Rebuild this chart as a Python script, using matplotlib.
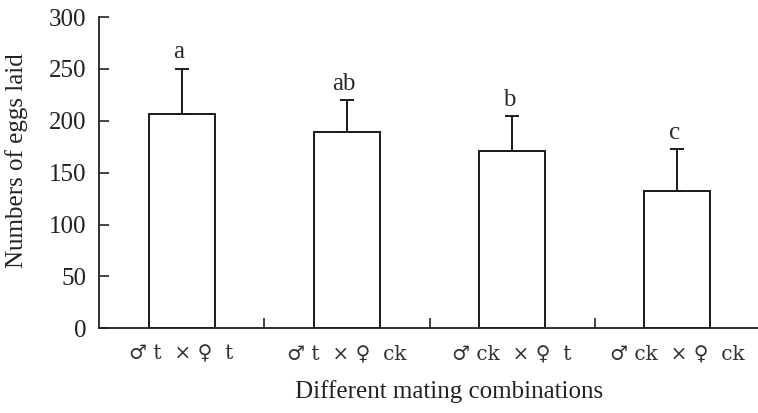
import matplotlib
matplotlib.use("Agg")
import matplotlib.pyplot as plt
import numpy as np

categories = ["♂ t  × ♀  t", "♂ t  × ♀  ck", "♂ ck  × ♀  t", "♂ ck  × ♀  ck"]
means = [206.5, 189.5, 170.5, 132.5]
errors = [43.8, 30.2, 34.0, 40.0]
letters = ["a", "ab", "b", "c"]
yticks = [0, 50, 100, 150, 200, 250, 300]

plt.rcParams['font.family'] = ['Liberation Serif', 'DejaVu Serif', 'Noto Sans CJK SC']

fig = plt.figure(figsize=(7.58, 4.13), dpi=100)
ax = fig.add_axes([99/758, 1 - 328.3/413, 661/758, 311.3/413])

x = np.arange(len(categories))
ax.bar(x, means, width=0.4, color='white', edgecolor='#1a1a1a', linewidth=1.4, zorder=2)
ax.errorbar(x, means, yerr=[np.zeros(len(errors)), errors], fmt='none', ecolor='#1a1a1a',
            elinewidth=1.4, capsize=5, capthick=1.4, zorder=3)
for xi, m, e, l in zip(x, means, errors, letters):
    ax.text(xi - 0.02, m + e + 5, l, ha='center', va='bottom', fontsize=18, color='#2a2a2a')

ax.set_xlim(-0.5, 3.5)
ax.set_ylim(0, 300)
ax.set_yticks(yticks)
ax.set_xticks(x)
ax.set_xticklabels(categories, fontsize=14.5, family=['DejaVu Serif'])
ax.set_xticks([0.5, 1.5, 2.5], minor=True)
ax.tick_params(axis='x', which='major', length=0, pad=12, colors='#333333')
ax.tick_params(axis='x', which='minor', direction='in', length=7, width=1.2, color='#222222')
ax.tick_params(axis='y', direction='in', length=7, width=1.2, pad=9, labelsize=18, colors='#222222')

for s in ['top', 'right']:
    ax.spines[s].set_visible(False)
for s in ['left', 'bottom']:
    ax.spines[s].set_linewidth(1.3)
    ax.spines[s].set_color('#222222')

ax.set_ylabel('Numbers of eggs laid', fontsize=18, color='#222222')
ax.yaxis.set_label_coords(-0.107, 0.54)
ax.set_xlabel('Different mating combinations', fontsize=18, color='#222222')
ax.xaxis.set_label_coords(0.53, -0.165)

fig.savefig('out.png', dpi=100)
